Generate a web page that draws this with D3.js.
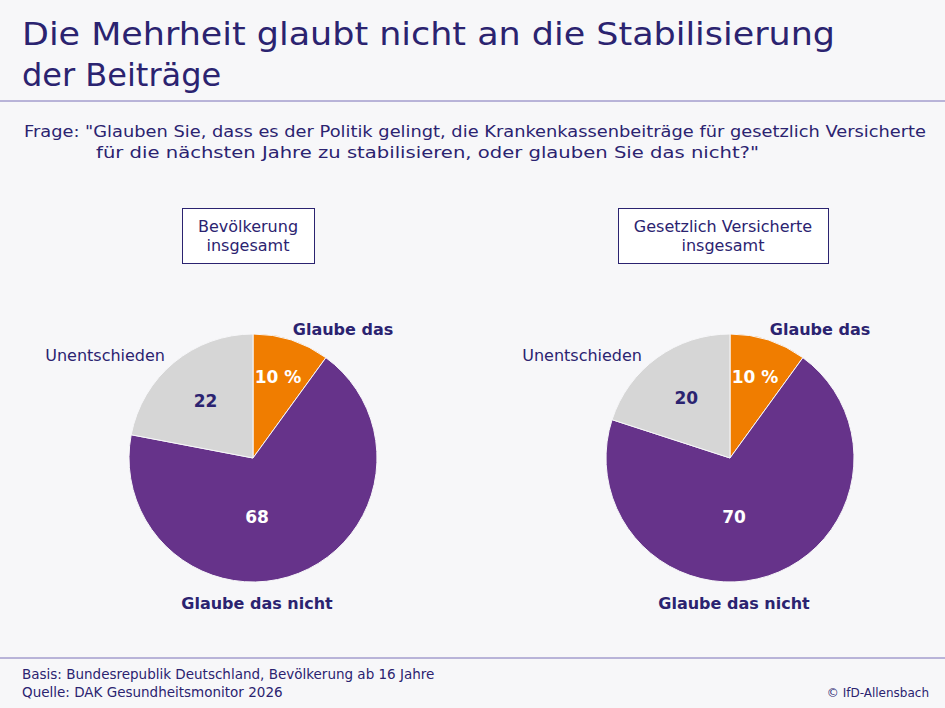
<!DOCTYPE html><html><head><meta charset="utf-8">
<script src="https://cdn.jsdelivr.net/npm/d3@7"></script>
<style>body{margin:0;background:#f7f7f9}text{font-family:"DejaVu Sans",sans-serif}</style></head><body>
<svg id="c" width="945" height="708"></svg>
<script>
const categories=["Glaube das","Glaube das nicht","Unentschieden"];
const groups=[["Bevölkerung","insgesamt"],["Gesetzlich Versicherte","insgesamt"]];
const valuesBev=[10,68,22];
const valuesGKV=[10,70,20];
const colors=["#f07d00","#66338a","#d6d6d6"];
const svg=d3.select("#c");
const ink="#2b2370";
svg.append("rect").attr("width",945).attr("height",708).attr("fill","#f7f7f9");
svg.append("text").attr("x",22).attr("y",45).attr("font-size",32).attr("fill",ink).attr("textLength",813).attr("lengthAdjust","spacingAndGlyphs").text("Die Mehrheit glaubt nicht an die Stabilisierung");
svg.append("text").attr("x",22).attr("y",86).attr("font-size",32).attr("fill",ink).text("der Beiträge");
svg.append("line").attr("x1",0).attr("x2",945).attr("y1",101).attr("y2",101).attr("stroke","#7a70b8").attr("stroke-width",1);
svg.append("text").attr("x",24).attr("y",137).attr("font-size",16.5).attr("fill",ink).attr("textLength",902).attr("lengthAdjust","spacingAndGlyphs").text('Frage:  "Glauben Sie, dass es der Politik gelingt, die Krankenkassenbeiträge für gesetzlich Versicherte');
svg.append("text").attr("x",96).attr("y",158).attr("font-size",16.5).attr("fill",ink).attr("textLength",663).attr("lengthAdjust","spacingAndGlyphs").text('für die nächsten Jahre zu stabilisieren, oder glauben Sie das nicht?"');
const pie=d3.pie().sort(null).value(d=>d);
const r=124;
const arc=d3.arc().innerRadius(0).outerRadius(r);
const cfg=[{cx:253,box:[182,314],vals:valuesBev},{cx:730,box:[618,828],vals:valuesGKV}];
cfg.forEach((c,gi)=>{
  const g=svg.append("g").attr("transform",`translate(${c.cx},458)`);
  const arcs=pie(c.vals);
  g.selectAll("path").data(arcs).enter().append("path").attr("d",arc).attr("fill",(d,i)=>colors[i]).attr("stroke","#f7f7f9").attr("stroke-width",1);
  const inner=d3.arc().innerRadius(r*0.6).outerRadius(r*0.6);
  arcs.forEach((a,i)=>{
    let [x,y]=i==1?[4,59]:inner.centroid(a);
    if(i==0){y-=10;x+=2;}
    g.append("text").attr("x",x).attr("y",y).attr("text-anchor","middle").attr("dominant-baseline","central").attr("font-size",17).attr("font-weight","bold").attr("fill",i==2?ink:"#fff").text(i==0?a.data+" %":a.data);
  });
  g.append("text").attr("x",90).attr("y",-123).attr("text-anchor","middle").attr("font-size",16).attr("font-weight","bold").attr("fill",ink).text(categories[0]);
  g.append("text").attr("x",4).attr("y",151).attr("text-anchor","middle").attr("font-size",16).attr("font-weight","bold").attr("fill",ink).text(categories[1]);
  g.append("text").attr("x",-88).attr("y",-97).attr("text-anchor","end").attr("font-size",16).attr("fill",ink).text(categories[2]);
  svg.append("rect").attr("x",c.box[0]+0.5).attr("y",208.5).attr("width",c.box[1]-c.box[0]).attr("height",55).attr("fill","#fff").attr("stroke",ink);
  const mx=(c.box[0]+c.box[1])/2;
  groups[gi].forEach((t,k)=>svg.append("text").attr("x",mx).attr("y",232+k*19).attr("text-anchor","middle").attr("font-size",16).attr("fill",ink).text(t));
});
svg.append("line").attr("x1",0).attr("x2",945).attr("y1",658).attr("y2",658).attr("stroke","#7a70b8");
svg.append("text").attr("x",22).attr("y",679).attr("font-size",13.5).attr("fill",ink).text("Basis: Bundesrepublik Deutschland, Bevölkerung ab 16 Jahre");
svg.append("text").attr("x",22).attr("y",697).attr("font-size",13.5).attr("fill",ink).text("Quelle: DAK Gesundheitsmonitor 2026");
svg.append("text").attr("x",929).attr("y",697).attr("text-anchor","end").attr("font-size",12).attr("fill",ink).text("© IfD-Allensbach");
</script></body></html>
